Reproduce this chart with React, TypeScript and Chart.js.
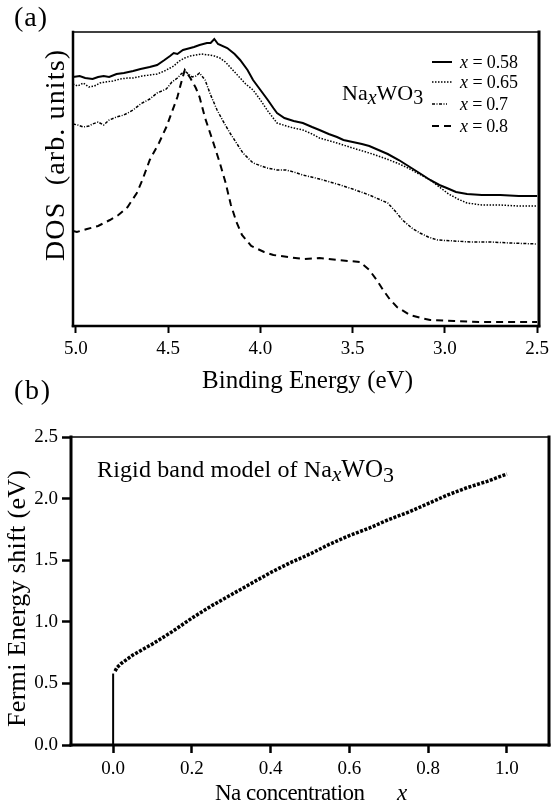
import React, { useEffect, useRef } from "react";
import { Chart, registerables } from "chart.js";
Chart.register(...registerables);

const FONT = '"Liberation Serif", "DejaVu Serif", "Times New Roman", serif';

// ---------- Panel (a): DOS vs binding energy ----------
const energyTicks = [5.0, 4.5, 4.0, 3.5, 3.0, 2.5];
const seriesLabels = ["x = 0.58", "x = 0.65", "x = 0.7", "x = 0.8"];

const energy058 = [5.016, 4.98, 4.95, 4.91, 4.88, 4.85, 4.82, 4.78, 4.74, 4.69, 4.65, 4.6, 4.56, 4.52, 4.49, 4.47, 4.45, 4.42, 4.4, 4.36, 4.33, 4.29, 4.27, 4.25, 4.23, 4.18, 4.14, 4.11, 4.07, 4.04, 4.0, 3.96, 3.93, 3.91, 3.87, 3.82, 3.77, 3.72, 3.68, 3.63, 3.585, 3.55, 3.5, 3.45, 3.41, 3.36, 3.31, 3.25, 3.19, 3.13, 3.08, 3.03, 2.99, 2.94, 2.88, 2.8, 2.7, 2.6, 2.5];
const dos058 = [2.49, 2.5, 2.48, 2.47, 2.49, 2.5, 2.49, 2.52, 2.53, 2.55, 2.57, 2.59, 2.61, 2.66, 2.7, 2.73, 2.72, 2.76, 2.77, 2.79, 2.81, 2.83, 2.83, 2.87, 2.82, 2.78, 2.72, 2.66, 2.56, 2.46, 2.36, 2.26, 2.18, 2.13, 2.08, 2.05, 2.03, 1.99, 1.96, 1.92, 1.89, 1.86, 1.84, 1.82, 1.8, 1.76, 1.72, 1.66, 1.59, 1.52, 1.46, 1.41, 1.38, 1.34, 1.32, 1.31, 1.31, 1.3, 1.3];

const energy065 = [5.016, 4.99, 4.96, 4.93, 4.9, 4.87, 4.84, 4.8, 4.76, 4.72, 4.69, 4.64, 4.6, 4.56, 4.52, 4.49, 4.47, 4.44, 4.41, 4.38, 4.35, 4.32, 4.28, 4.25, 4.22, 4.19, 4.16, 4.12, 4.08, 4.04, 4.0, 3.96, 3.91, 3.86, 3.82, 3.77, 3.72, 3.68, 3.585, 3.5, 3.41, 3.33, 3.26, 3.2, 3.14, 3.08, 3.03, 2.98, 2.93, 2.88, 2.8, 2.7, 2.6, 2.5];
const dos065 = [2.42, 2.4, 2.43, 2.39, 2.4, 2.43, 2.44, 2.45, 2.47, 2.48, 2.48, 2.5, 2.51, 2.52, 2.55, 2.58, 2.6, 2.65, 2.68, 2.7, 2.71, 2.72, 2.71, 2.7, 2.68, 2.64, 2.58, 2.5, 2.42, 2.36, 2.26, 2.15, 2.03, 2.0, 1.98, 1.96, 1.92, 1.88, 1.83, 1.78, 1.73, 1.68, 1.63, 1.58, 1.52, 1.46, 1.39, 1.32, 1.27, 1.23, 1.21, 1.21, 1.2, 1.2];

const energy07 = [5.016, 4.99, 4.96, 4.93, 4.91, 4.88, 4.85, 4.82, 4.78, 4.74, 4.69, 4.65, 4.6, 4.56, 4.51, 4.48, 4.45, 4.43, 4.41, 4.39, 4.37, 4.35, 4.33, 4.3, 4.27, 4.235, 4.2, 4.165, 4.13, 4.095, 4.04, 3.965, 3.91, 3.86, 3.82, 3.77, 3.68, 3.585, 3.5, 3.41, 3.36, 3.31, 3.27, 3.23, 3.18, 3.135, 3.09, 3.04, 2.95, 2.86, 2.75, 2.65, 2.5];
const dos07 = [2.02, 2.01, 1.99, 2.0, 2.02, 2.04, 2.01, 2.06, 2.09, 2.11, 2.16, 2.22, 2.27, 2.33, 2.37, 2.44, 2.48, 2.52, 2.55, 2.52, 2.49, 2.5, 2.53, 2.46, 2.31, 2.16, 2.04, 1.93, 1.83, 1.73, 1.63, 1.58, 1.56, 1.56, 1.54, 1.51, 1.47, 1.42, 1.37, 1.31, 1.27, 1.23, 1.15, 1.06, 0.98, 0.93, 0.89, 0.86, 0.85, 0.84, 0.84, 0.83, 0.82];

const energy08 = [5.016, 4.995, 4.94, 4.88, 4.816, 4.77, 4.72, 4.67, 4.64, 4.6, 4.55, 4.51, 4.48, 4.45, 4.43, 4.41, 4.38, 4.35, 4.33, 4.3, 4.26, 4.22, 4.19, 4.16, 4.13, 4.1, 4.05, 3.98, 3.93, 3.85, 3.77, 3.68, 3.585, 3.52, 3.46, 3.41, 3.37, 3.335, 3.3, 3.26, 3.19, 3.13, 3.08, 2.95, 2.8, 2.65, 2.5];
const dos08 = [0.95, 0.94, 0.97, 1.0, 1.06, 1.11, 1.19, 1.33, 1.46, 1.66, 1.83, 1.99, 2.14, 2.29, 2.43, 2.56, 2.48, 2.38, 2.29, 2.08, 1.86, 1.63, 1.44, 1.21, 1.04, 0.91, 0.8, 0.74, 0.71, 0.69, 0.67, 0.68, 0.66, 0.65, 0.64, 0.56, 0.46, 0.36, 0.27, 0.19, 0.11, 0.08, 0.06, 0.05, 0.04, 0.04, 0.04];

// ---------- Panel (b): rigid band model ----------
const naTicks = [0.0, 0.2, 0.4, 0.6, 0.8, 1.0];
const shiftTicks = [0.0, 0.5, 1.0, 1.5, 2.0, 2.5];
const jumpX = [0, 0];
const jumpY = [0, 0.58];
const naX = [0.005, 0.01, 0.02, 0.05, 0.1, 0.15, 0.2, 0.25, 0.3, 0.35, 0.4, 0.45, 0.5, 0.55, 0.6, 0.65, 0.7, 0.75, 0.8, 0.85, 0.9, 0.95, 1.0];
const shiftY = [0.6, 0.63, 0.66, 0.73, 0.82, 0.92, 1.03, 1.13, 1.22, 1.31, 1.4, 1.48, 1.55, 1.63, 1.7, 1.76, 1.83, 1.89, 1.96, 2.03, 2.09, 2.14, 2.2];

const pts = (xs: number[], ys: number[]) => xs.map((x, i) => ({ x, y: ys[i] }));

const DASHES: number[][] = [[], [1.5, 1.5], [3, 1.5, 1, 1.5], [7, 5]];
const WIDTHS = [2, 1.5, 1.5, 2];

type Seg = { s: string; size: number; italic?: boolean; dy?: number; width?: number };
type TextItem = { x: number; y: number; segs: Seg[]; rotate?: boolean };

function drawText(ctx: CanvasRenderingContext2D, t: TextItem) {
  ctx.save();
  ctx.translate(t.x, t.y);
  if (t.rotate) ctx.rotate(-Math.PI / 2);
  ctx.fillStyle = "#000";
  ctx.textAlign = "left";
  ctx.textBaseline = "alphabetic";
  let cx = 0;
  t.segs.forEach((g) => {
    ctx.save();
    ctx.font = `${g.italic ? "italic " : ""}${g.size}px ${FONT}`;
    const n = Array.from(g.s).length;
    const w = ctx.measureText(g.s).width;
    let adv = w;
    if (g.width && n > 1) {
      let ls = (g.width - w) / (n - 1);
      ls = Math.max(-2, Math.min(3, ls));
      (ctx as any).letterSpacing = ls + "px";
      adv = w + ls * (n - 1);
    }
    ctx.fillText(g.s, cx, g.dy || 0);
    ctx.restore();
    cx += adv;
  });
  ctx.restore();
}

function framePlugin(widths: { l: number; r: number; t: number; b: number }, texts: TextItem[], offsetY: number, legend?: boolean) {
  return {
    id: "frameText",
    afterDraw(chart: any) {
      const { ctx, chartArea: a } = chart;
      ctx.save();
      ctx.strokeStyle = "#000";
      ctx.lineCap = "square";
      const line = (w: number, x1: number, y1: number, x2: number, y2: number) => {
        ctx.lineWidth = w;
        ctx.beginPath();
        ctx.moveTo(x1, y1);
        ctx.lineTo(x2, y2);
        ctx.stroke();
      };
      line(widths.t, a.left, a.top, a.right, a.top);
      line(widths.b, a.left, a.bottom, a.right, a.bottom);
      line(widths.l, a.left, a.top, a.left, a.bottom);
      line(widths.r, a.right, a.top, a.right, a.bottom);
      ctx.restore();

      ctx.save();
      ctx.translate(0, -offsetY);
      texts.forEach((t) => drawText(ctx, t));
      if (legend) {
        const rows = [62, 82, 104, 126];
        const ends = [452, 452, 447, 452];
        const textW = [58, 58, 48, 48];
        rows.forEach((ry, i) => {
          ctx.save();
          ctx.strokeStyle = "#000";
          ctx.lineWidth = WIDTHS[i];
          ctx.setLineDash(DASHES[i]);
          ctx.beginPath();
          ctx.moveTo(432, ry);
          ctx.lineTo(ends[i], ry);
          ctx.stroke();
          ctx.restore();
          const lbl = seriesLabels[i];
          drawText(ctx, {
            x: 460,
            y: ry + 6,
            segs: [
              { s: "x", size: 18, italic: true },
              { s: lbl.slice(1), size: 18, width: textW[i] - 8 },
            ],
          });
        });
      }
      ctx.restore();
    },
  };
}

const tickFont = { family: FONT, size: 19 };

export default function App() {
  const refA = useRef<HTMLCanvasElement>(null);
  const refB = useRef<HTMLCanvasElement>(null);

  useEffect(() => {
    const series = [
      [energy058, dos058],
      [energy065, dos065],
      [energy07, dos07],
      [energy08, dos08],
    ];
    const chartA = new Chart(refA.current!, {
      type: "line",
      data: {
        datasets: series.map(([xs, ys], i) => ({
          label: seriesLabels[i],
          data: pts(xs, ys),
          borderColor: "#000",
          borderWidth: WIDTHS[i],
          borderDash: DASHES[i],
          pointRadius: 0,
          tension: 0,
          fill: false,
        })),
      },
      options: {
        responsive: false,
        animation: false,
        devicePixelRatio: 1,
        layout: { padding: { left: 73, top: 32, right: 20, bottom: 0 } },
        plugins: { legend: { display: false }, tooltip: { enabled: false } },
        scales: {
          x: {
            type: "linear",
            reverse: true,
            min: 2.49,
            max: 5.016,
            afterBuildTicks: (s: any) => {
              s.ticks = energyTicks.map((v) => ({ value: v }));
            },
            afterFit: (s: any) => {
              s.height = 74;
            },
            ticks: {
              color: "#000",
              font: tickFont,
              padding: 5,
              maxRotation: 0,
              autoSkip: false,
              callback: (v: any) => Number(v).toFixed(1),
            },
            grid: { display: true, drawOnChartArea: false, drawTicks: true, tickLength: 7, tickWidth: 2, tickColor: "#000" },
            border: { display: false },
          },
          y: { display: false, min: 0, max: 2.94 },
        },
      },
      plugins: [
        framePlugin(
          { l: 2.5, r: 3, t: 1.5, b: 2.5 },
          [
            { x: 14, y: 26, segs: [{ s: "(a)", size: 28, width: 33 }] },
            { x: 64, y: 261, rotate: true, segs: [{ s: "DOS  (arb. units)", size: 28, width: 211 }] },
            { x: 202, y: 388, segs: [{ s: "Binding Energy (eV)", size: 25, width: 211 }] },
            {
              x: 342,
              y: 100,
              segs: [
                { s: "Na", size: 22 },
                { s: "x", size: 20, italic: true, dy: 4 },
                { s: "WO", size: 22 },
                { s: "3", size: 20, dy: 4 },
              ],
            },
          ],
          0,
          true
        ),
      ],
    } as any);

    const chartB = new Chart(refB.current!, {
      type: "line",
      data: {
        datasets: [
          {
            label: "jump",
            data: pts(jumpX, jumpY),
            borderColor: "#000",
            borderWidth: 2,
            pointRadius: 0,
            tension: 0,
          },
          {
            label: "rigid band",
            data: pts(naX, shiftY),
            borderColor: "#000",
            borderWidth: 3.5,
            borderDash: [3, 1.5],
            pointRadius: 0,
            tension: 0,
          },
        ],
      },
      options: {
        responsive: false,
        animation: false,
        devicePixelRatio: 1,
        layout: { padding: { left: 0, top: 57, right: 10, bottom: 0 } },
        plugins: { legend: { display: false }, tooltip: { enabled: false } },
        scales: {
          x: {
            type: "linear",
            min: -0.107,
            max: 1.107,
            afterBuildTicks: (s: any) => {
              s.ticks = naTicks.map((v) => ({ value: v }));
            },
            afterFit: (s: any) => {
              s.height = 63;
            },
            ticks: {
              color: "#000",
              font: tickFont,
              padding: 5,
              maxRotation: 0,
              autoSkip: false,
              callback: (v: any) => Number(v).toFixed(1),
            },
            grid: { display: true, drawOnChartArea: false, drawTicks: true, tickLength: 8, tickWidth: 2.5, tickColor: "#000" },
            border: { display: false },
          },
          y: {
            type: "linear",
            min: 0,
            max: 2.5,
            afterBuildTicks: (s: any) => {
              s.ticks = shiftTicks.map((v) => ({ value: v }));
            },
            afterFit: (s: any) => {
              s.width = 71;
            },
            ticks: {
              color: "#000",
              font: tickFont,
              padding: 4,
              autoSkip: false,
              callback: (v: any) => Number(v).toFixed(1),
            },
            grid: { display: true, drawOnChartArea: false, drawTicks: true, tickLength: 9, tickWidth: 2.5, tickColor: "#000" },
            border: { display: false },
          },
        },
      },
      plugins: [
        framePlugin(
          { l: 3, r: 3, t: 1.5, b: 3 },
          [
            { x: 14, y: 399, segs: [{ s: "(b)", size: 28, width: 36 }] },
            { x: 25, y: 727, rotate: true, segs: [{ s: "Fermi Energy shift (eV)", size: 26, width: 257 }] },
            {
              x: 97,
              y: 477,
              segs: [
                { s: "Rigid band model of Na", size: 24, width: 235 },
                { s: "x", size: 21, italic: true, dy: 4 },
                { s: "WO", size: 25 },
                { s: "3", size: 22, dy: 5 },
              ],
            },
            { x: 215, y: 800, segs: [{ s: "Na concentration", size: 23, width: 150 }] },
            { x: 397, y: 800, segs: [{ s: "x", size: 23, italic: true }] },
          ],
          380
        ),
      ],
    } as any);

    return () => {
      chartA.destroy();
      chartB.destroy();
    };
  }, []);

  return (
    <div style={{ position: "fixed", left: 0, top: 0, width: 559, height: 808, background: "#fff" }}>
      <canvas ref={refA} width={559} height={400} style={{ position: "absolute", left: 0, top: 0, width: 559, height: 400 }} />
      <canvas ref={refB} width={559} height={428} style={{ position: "absolute", left: 0, top: 380, width: 559, height: 428 }} />
    </div>
  );
}
